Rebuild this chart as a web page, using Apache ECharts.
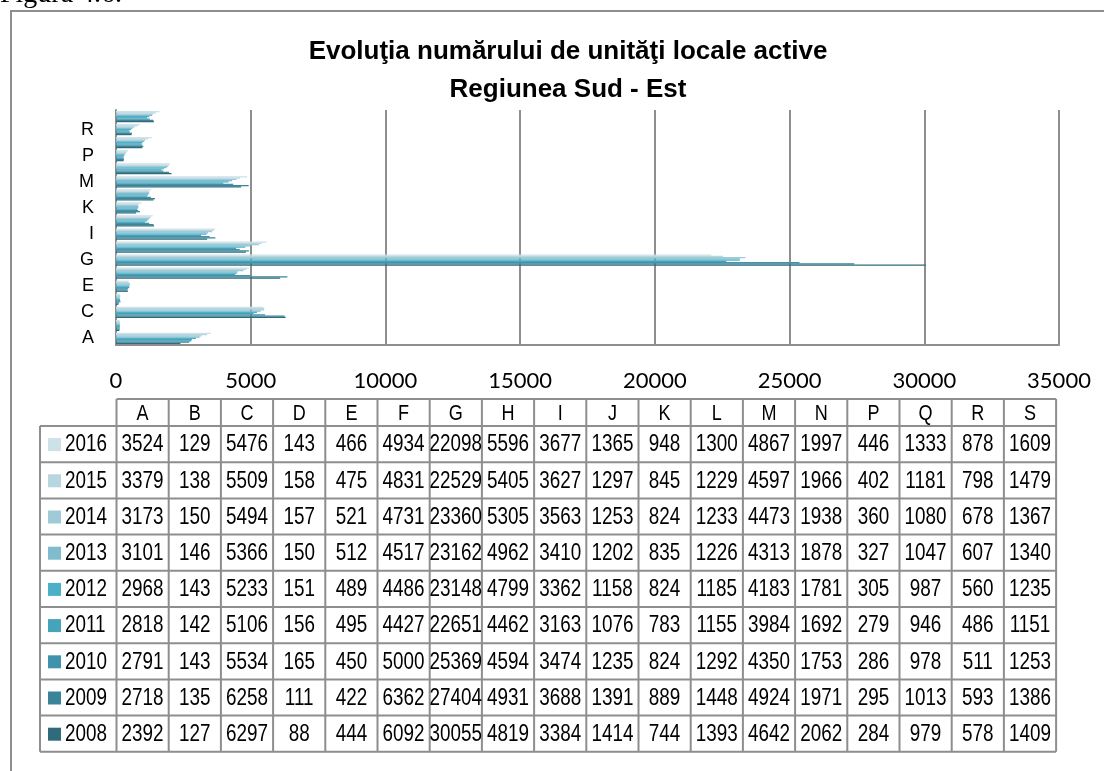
<!DOCTYPE html>
<html>
<head>
<meta charset="utf-8">
<script src="https://cdn.jsdelivr.net/npm/echarts@6/dist/echarts.min.js"></script>
<style>
  html, body { margin: 0; padding: 0; background: #fff; }
  #main { width: 1104px; height: 771px; }
</style>
</head>
<body>
<div id="main"></div>
<script>
// categorii (ramuri CAEN)
const categories = ['A', 'B', 'C', 'D', 'E', 'F', 'G', 'H', 'I', 'J', 'K', 'L', 'M', 'N', 'P', 'Q', 'R', 'S'];
const years = ['2016', '2015', '2014', '2013', '2012', '2011', '2010', '2009', '2008'];

// valori pe ani
const v2016 = [3524, 129, 5476, 143, 466, 4934, 22098, 5596, 3677, 1365, 948, 1300, 4867, 1997, 446, 1333, 878, 1609];
const v2015 = [3379, 138, 5509, 158, 475, 4831, 22529, 5405, 3627, 1297, 845, 1229, 4597, 1966, 402, 1181, 798, 1479];
const v2014 = [3173, 150, 5494, 157, 521, 4731, 23360, 5305, 3563, 1253, 824, 1233, 4473, 1938, 360, 1080, 678, 1367];
const v2013 = [3101, 146, 5366, 150, 512, 4517, 23162, 4962, 3410, 1202, 835, 1226, 4313, 1878, 327, 1047, 607, 1340];
const v2012 = [2968, 143, 5233, 151, 489, 4486, 23148, 4799, 3362, 1158, 824, 1185, 4183, 1781, 305, 987, 560, 1235];
const v2011 = [2818, 142, 5106, 156, 495, 4427, 22651, 4462, 3163, 1076, 783, 1155, 3984, 1692, 279, 946, 486, 1151];
const v2010 = [2791, 143, 5534, 165, 450, 5000, 25369, 4594, 3474, 1235, 824, 1292, 4350, 1753, 286, 978, 511, 1253];
const v2009 = [2718, 135, 6258, 111, 422, 6362, 27404, 4931, 3688, 1391, 889, 1448, 4924, 1971, 295, 1013, 593, 1386];
const v2008 = [2392, 127, 6297, 88, 444, 6092, 30055, 4819, 3384, 1414, 744, 1393, 4642, 2062, 284, 979, 578, 1409];

const xTicks = [0, 5000, 10000, 15000, 20000, 25000, 30000, 35000];

const seriesValues = [v2016, v2015, v2014, v2013, v2012, v2011, v2010, v2009, v2008];
const colors = ['#cde1e8', '#b7d6df', '#9fcad7', '#7fbccd', '#4db0c8', '#46a3bb', '#3f93ac', '#398498', '#2f6b7b'];

const gray = '#8e8e8e';
const tableFont = '"Liberation Sans", Arial, sans-serif';
const narrow = 0.82; // textul din tabel e ingustat (Arial Narrow in original)

// tabel de date (desenat cu graphic)
function buildTable() {
  const left = 116.5, colW = 52.2, headTop = 399, headH = 27, rowH = 36.2, labelLeft = 40;
  const els = [];
  const rightEdge = left + colW * categories.length;
  const bottom = headTop + headH + rowH * years.length;
  // linii orizontale
  els.push({ type: 'line', shape: { x1: left, y1: headTop, x2: rightEdge, y2: headTop }, style: { stroke: gray, lineWidth: 2 } });
  for (let r = 0; r <= years.length; r++) {
    const y = headTop + headH + rowH * r;
    els.push({ type: 'line', shape: { x1: labelLeft, y1: y, x2: rightEdge, y2: y }, style: { stroke: gray, lineWidth: 2 } });
  }
  // linii verticale
  els.push({ type: 'line', shape: { x1: labelLeft, y1: headTop + headH, x2: labelLeft, y2: bottom }, style: { stroke: gray, lineWidth: 2 } });
  for (let c = 0; c <= categories.length; c++) {
    const x = left + colW * c;
    els.push({ type: 'line', shape: { x1: x, y1: headTop, x2: x, y2: bottom }, style: { stroke: gray, lineWidth: 2 } });
  }
  // antet
  categories.forEach((cat, c) => {
    els.push({
      type: 'text', x: left + colW * c + colW / 2, y: headTop + headH / 2 + 1, scaleX: narrow,
      style: { text: cat, font: '22px ' + tableFont, fill: '#000', align: 'center', verticalAlign: 'middle' }
    });
  });
  // randuri
  years.forEach((yr, r) => {
    const cy = headTop + headH + rowH * r + rowH / 2 + 1;
    els.push({ type: 'rect', shape: { x: 48, y: cy - 7, width: 13, height: 13 }, style: { fill: colors[r] } });
    els.push({
      type: 'text', x: 65, y: cy, scaleX: narrow,
      style: { text: yr, font: '23px ' + tableFont, fill: '#000', align: 'left', verticalAlign: 'middle' }
    });
    seriesValues[r].forEach((v, c) => {
      els.push({
        type: 'text', x: left + colW * c + colW / 2, y: cy, scaleX: narrow,
        style: { text: String(v), font: '23px ' + tableFont, fill: '#000', align: 'center', verticalAlign: 'middle' }
      });
    });
  });
  return els;
}

const chart = echarts.init(document.getElementById('main'), null, { renderer: 'canvas' });

const option = {
  animation: false,
  backgroundColor: '#fff',
  title: {
    text: 'Evoluţia numărului de unităţi locale active\nRegiunea Sud - Est',
    left: 563,
    top: 28,
    textAlign: 'center',
    textStyle: {
      fontFamily: '"Liberation Sans", Arial, sans-serif',
      fontSize: 26,
      fontWeight: 'bold',
      color: '#000',
      lineHeight: 38
    }
  },
  grid: { left: 116, right: 45, top: 110, height: 235, containLabel: false },
  xAxis: {
    type: 'value',
    min: xTicks[0],
    max: xTicks[xTicks.length - 1],
    interval: xTicks[1] - xTicks[0],
    axisLine: { show: true, lineStyle: { color: gray, width: 2 } },
    axisTick: { show: false },
    splitLine: { show: true, lineStyle: { color: gray, width: 2 } },
    axisLabel: {
      margin: 25,
      color: '#000',
      fontSize: 22,
      fontFamily: 'Lato, "Open Sans", sans-serif',
      formatter: v => String(v)
    }
  },
  yAxis: {
    type: 'category',
    data: categories,
    axisLine: { show: true, lineStyle: { color: gray, width: 2 } },
    axisTick: { show: false },
    axisLabel: {
      interval: 1,
      margin: 22,
      color: '#000',
      fontSize: 18,
      fontFamily: tableFont
    }
  },
  series: years.map((yr, i) => ({
    name: yr,
    type: 'bar',
    data: seriesValues[i],
    barGap: '0%',
    barCategoryGap: '14%',
    itemStyle: { color: colors[i] }
  })),
  graphic: [
    { type: 'rect', shape: { x: 11, y: 11, width: 1200, height: 1000 }, style: { fill: 'none', stroke: gray, lineWidth: 2 }, silent: true },
    { type: 'text', x: 0, y: 9, style: { text: 'Figura 4.6.', font: '28px "Liberation Serif", "Times New Roman", serif', fill: '#000', verticalAlign: 'bottom' } },
    ...buildTable()
  ]
};

chart.setOption(option);
</script>
</body>
</html>
